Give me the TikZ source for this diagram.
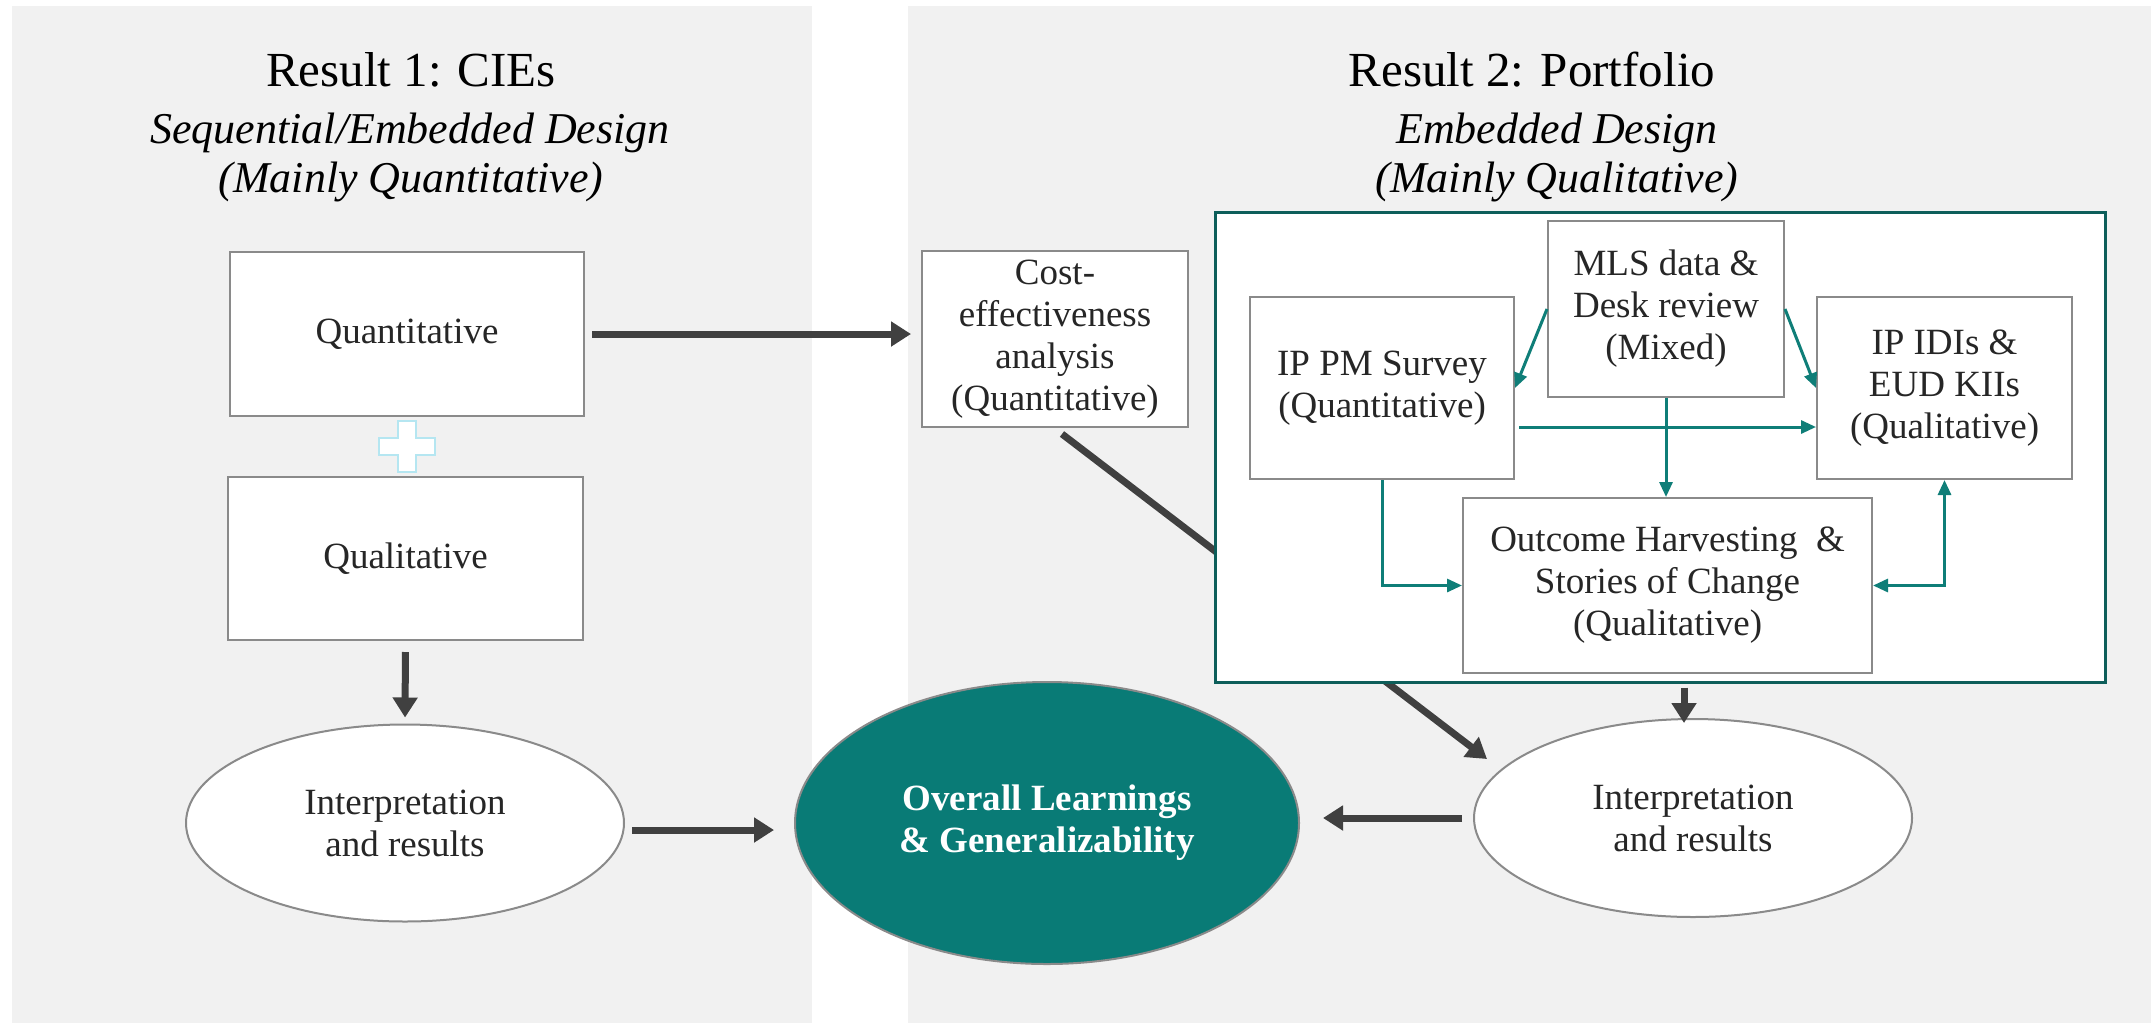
\documentclass[tikz,border=0pt]{standalone}
\usepackage{fontspec}
\setmainfont{Liberation Serif}
\usetikzlibrary{shapes.geometric,arrows.meta,calc}

\definecolor{panelgray}{HTML}{F1F1F1}
\definecolor{tealfill}{HTML}{097B76}
\definecolor{tealframe}{HTML}{0D5E5A}
\definecolor{tealarrow}{HTML}{0F7E78}
\definecolor{boxline}{HTML}{8A8A8A}
\definecolor{arrowgray}{HTML}{404040}
\definecolor{bodytext}{HTML}{262626}
\definecolor{pluscyan}{HTML}{B5E6F1}

\newcommand\txtsize{\fontsize{18.5}{21}\selectfont}
\newcommand\titlesize{\fontsize{24.5}{29}\selectfont}
\newcommand\subsize{\fontsize{22}{26}\selectfont\itshape}

\begin{document}
\begin{tikzpicture}[x=0.5pt,y=-0.5pt,
  headline/.style={anchor=base, inner sep=0pt, text=black, font=\titlesize},
  subline/.style={anchor=base, inner sep=0pt, text=black, font=\subsize},
  box/.style={draw=boxline, line width=1pt, fill=white, inner sep=0pt,
    align=center, text=bodytext, font=\txtsize},
  oval/.style={ellipse, draw=boxline, line width=1pt, fill=white, inner sep=0pt,
    align=center, text=bodytext, font=\txtsize},
  darr/.style={draw=arrowgray, line width=3.5pt,
    -{Triangle[width=12pt,length=10pt]}},
  tarr/.style={draw=tealarrow, line width=1.5pt,
    -{Triangle[width=6.5pt,length=7.5pt]}},
  tarrboth/.style={draw=tealarrow, line width=1.5pt,
    {Triangle[width=6.5pt,length=7.5pt]}-{Triangle[width=6.5pt,length=7.5pt]}}]

\useasboundingbox (0,0) rectangle (2151,1023);

% background panels
\fill[panelgray] (12,6) rectangle (812,1023);
\fill[panelgray] (908,6) rectangle (2151,1023);

% headings
\node[headline] (t1) at (411,86) {Result 1: CIEs};
\node[subline] (s1a) at (410,143) {Sequential/Embedded Design};
\node[subline] (s1b) at (411,192) {(Mainly Quantitative)};
\node[headline] (t2) at (1532,86) {Result 2: Portfolio};
\node[subline] (s2a) at (1557,143) {Embedded Design};
\node[subline] (s2b) at (1557,192) {(Mainly Qualitative)};

% left column
\node[box, minimum width=177pt, minimum height=82pt] (quant) at (407,334) {Quantitative};
\node[box, minimum width=177.5pt, minimum height=81.5pt] (qual) at (405.5,558.5) {Qualitative};
\node[oval, minimum width=219pt, minimum height=98.5pt] (lint) at (405,823) {Interpretation\\and results};

% plus sign between the two method boxes
\draw[pluscyan, line width=1pt, fill=white]
  (398,421) -- (416,421) -- (416,438) -- (435,438) -- (435,455) -- (416,455)
  -- (416,472) -- (398,472) -- (398,455) -- (379,455) -- (379,438) -- (398,438) -- cycle;

% centre and right column
\node[box, minimum width=133pt, minimum height=88pt] (cost) at (1055,339)
  {Cost-\\effectiveness\\analysis\\(Quantitative)};
\node[oval, minimum width=219pt, minimum height=99pt] (rint) at (1693,818) {Interpretation\\and results};
\node[oval, fill=tealfill, text=white, font=\txtsize\bfseries,
  minimum width=252pt, minimum height=141pt] (overall) at (1047,823)
  {Overall Learnings\\\& Generalizability};

% cost-effectiveness feeds the portfolio results (passes behind the frame)
\draw[darr] ($(cost.south)+(7,6)$) -- ($(rint.center)+(-206,-59)$);

% portfolio frame and its methods
\node[draw=tealframe, line width=1.5pt, fill=white, inner sep=0pt,
  minimum width=445pt, minimum height=235pt] (frame) at (1660,447) {};
\node[box, minimum width=118pt, minimum height=88pt] (mls) at (1666,309)
  {MLS data \&\\Desk review\\(Mixed)};
\node[box, minimum width=132pt, minimum height=91pt] (ippm) at (1382,388)
  {IP PM Survey\\(Quantitative)};
\node[box, minimum width=127.5pt, minimum height=91pt] (ipidi) at (1944.5,388)
  {IP IDIs \&\\EUD KIIs\\(Qualitative)};
\node[box, minimum width=204.5pt, minimum height=87.5pt] (outcome) at (1667.5,585.5)
  {Outcome Harvesting\ \ \&\\Stories of Change\\(Qualitative)};

% drop point under the frame, above the right-hand results
\coordinate (fdrop) at ($(frame.south)+(24,0)$);

% dark connectors
\draw[darr, shorten <=3.5pt, shorten >=5pt] (quant.east) -- (quant.east -| cost.west);
\draw[darr, shorten <=5.5pt, shorten >=3pt] (qual.south) -- (lint.north);
\draw[darr, shorten <=3.5pt, shorten >=10pt]
  ([yshift=-3.5pt]lint.east) -- ([yshift=-3.5pt]lint.east -| overall.west);
\draw[darr, shorten <=5.5pt, shorten >=11.5pt] (rint.west) -- (rint.west -| overall.east);
\draw[darr, shorten <=2pt, shorten >=-2.5pt] (fdrop) -- (fdrop |- rint.north);

% teal connectors inside the frame
\draw[tarr] (mls.west) -- (ippm.east);
\draw[tarr] (mls.east) -- (ipidi.west);
\draw[tarr] ($(ippm.east)+(4,39)$) -- ($(ipidi.west)+(0,39)$);
\draw[tarr] (mls.south) -- (mls.south |- outcome.north);
\draw[tarr] (ippm.south) |- (outcome.west);
\draw[tarrboth] (outcome.east) -| (ipidi.south);

\end{tikzpicture}
\end{document}
